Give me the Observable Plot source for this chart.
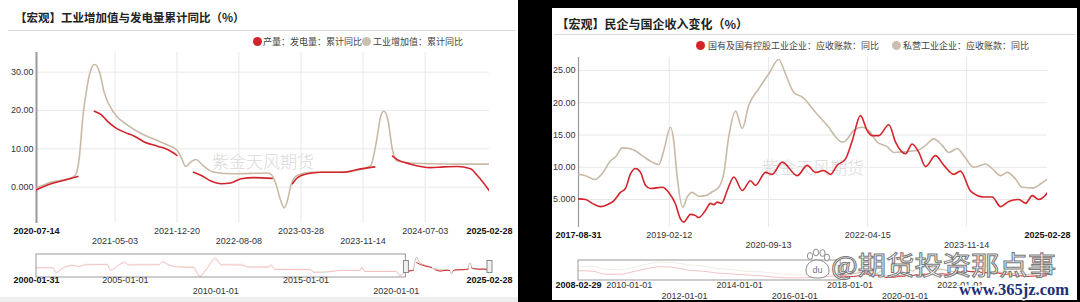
<!DOCTYPE html>
<html><head><meta charset="utf-8">
<script src="https://cdn.jsdelivr.net/npm/d3@7"></script>
<script src="https://cdn.jsdelivr.net/npm/@observablehq/plot@0.6"></script>
<style>
html,body{margin:0;padding:0}
body{width:1080px;height:302px;background:#000;position:relative;overflow:hidden;font-family:"Liberation Sans",Arial,sans-serif}
.panel{position:absolute;background:#fff;overflow:hidden}
.abs{position:absolute}
.title{font-family:"Noto Sans CJK SC",sans-serif;font-weight:700;font-size:12px;color:#222;white-space:nowrap;line-height:12px}
.sep{height:1px;background:#dadada}
.leg{font-family:"Noto Sans CJK SC",sans-serif;font-size:9px;color:#444;white-space:nowrap;line-height:9px}
.dot{position:absolute;width:9px;height:9px;border-radius:50%}
.wm{font-family:"Noto Sans CJK SC",sans-serif;font-size:17px;color:#dadada;white-space:nowrap;line-height:17px;font-weight:300}
svg{display:block}
</style></head><body>
<div id="L" class="panel" style="left:0;top:0;width:518px;height:302px"></div>
<div id="R" class="panel" style="left:552px;top:8px;width:525px;height:292px"></div>
<script>
// ---------------- DATA ----------------
// Left: 工业增加值与发电量累计同比
const leftTitle = "【宏观】工业增加值与发电量累计同比（%）";
const leftLegend = ["产量：发电量：累计同比", "工业增加值：累计同比"];
const leftXTicks = ["2020-07-14","2021-05-03","2021-12-20","2022-08-08","2023-03-28","2023-11-14","2024-07-03","2025-02-28"];
const leftXTickRows = [1,2,1,2,1,2,1,1];
const leftYTicks = [0,10,20,30];
const leftYTickLabels = ["0.000","10.00","20.00","30.00"];
const ivaDates = ["2020-07-14","2020-09-06","2020-10-26","2020-11-26","2020-12-09","2020-12-21","2021-01-03","2021-01-19","2021-02-02","2021-02-17","2021-03-05","2021-03-24","2021-04-30","2021-06-19","2021-08-08","2021-09-26","2021-11-15","2021-12-20","2022-01-04","2022-01-22","2022-02-10","2022-03-01","2022-03-26","2022-05-08","2022-07-21","2022-11-23","2022-12-05","2022-12-24","2023-01-11","2023-01-24","2023-02-05","2023-02-20","2023-03-15","2023-05-03","2023-08-11","2023-10-24","2023-12-13","2024-01-04","2024-01-19","2024-01-31","2024-02-15","2024-03-03","2024-03-21","2024-05-10","2024-07-23","2024-10-31","2025-02-28"];
const ivaValues = [-0.2,1.3,1.9,2.6,3.5,7.9,18.4,26.3,30.7,32.0,30.3,24.6,19.3,16.2,14.0,12.5,11.0,9.7,7.9,5.4,6.6,7.2,5.7,3.9,3.5,3.7,3.4,0.9,-3.5,-5.4,-3.5,0.9,3.1,3.9,3.9,4.4,5.7,12.3,18.5,19.8,17.6,9.7,6.8,6.3,6.1,6.0,6.0];
const powerDates = ["2020-07-14","2020-09-06","2020-10-25","2020-12-15","2021-01-15","2021-02-15","2021-03-12","2021-04-06","2021-05-07","2021-06-19","2021-07-14","2021-08-20","2021-10-09","2021-11-15","2021-12-20","2022-01-20","2022-02-20","2022-03-19","2022-04-26","2022-06-02","2022-07-09","2022-08-16","2022-10-04","2022-12-10","2023-01-20","2023-02-24","2023-03-15","2023-04-21","2023-06-09","2023-09-04","2023-10-24","2023-12-28","2024-02-01","2024-03-03","2024-03-21","2024-05-10","2024-07-23","2024-09-11","2024-10-31","2024-12-19","2025-01-13","2025-02-28"];
const powerValues = [-0.7,0.9,1.8,2.8,null,19.8,18.9,17.1,15.4,14.0,13.3,11.8,10.7,9.8,8.3,null,3.9,3.1,1.6,0.9,1.1,2.2,2.5,2.3,null,0.9,2.5,3.5,3.9,3.9,4.6,5.3,null,8.1,7.2,6.0,5.1,5.3,5.4,4.8,3.1,-1.0];
// left navigator
const leftNavRange = ["2000-01-31","2025-02-28"];
const leftNavTicks = ["2000-01-31","2005-01-01","2010-01-01","2015-01-01","2020-01-01","2025-02-28"];
const leftNavTickRows = [1,1,2,1,2,1];
const navIvaHistDates = ["2000-01-31","2000-06-30","2000-12-31","2001-02-28","2001-07-01","2002-02-01","2002-06-01","2002-11-01","2003-06-30","2004-01-01","2004-03-10","2004-07-28","2004-12-15","2005-03-01","2005-09-01","2006-11-10","2007-01-20","2007-06-01","2008-01-01","2008-10-01","2009-02-15","2009-06-01","2010-01-01","2010-04-20","2011-06-15","2011-10-20","2012-12-15","2013-01-15","2013-04-20","2015-04-01","2015-06-01","2016-01-01","2017-02-01","2018-01-01","2018-02-01","2018-04-01","2019-12-31","2020-03-15"];
const navIvaHistValues = [9.0,9.5,9.0,-1.8,7.4,15.0,12.0,16.6,16.6,16.6,3.6,13.5,22.9,16.0,16.6,16.6,24.4,16.0,11.2,11.2,-9.6,3.0,32.0,16.6,16.6,11.2,11.2,16.8,5.8,5.8,-0.4,-0.4,3.6,3.6,11.2,1.1,1.1,-8.1];
const navPowerHistValues = [8.0,8.5,8.0,-3.0,6.5,13.5,11.0,15.0,15.5,15.5,2.5,12.5,20.0,14.5,15.0,15.0,21.0,14.5,10.0,9.0,-11.0,1.5,28.0,15.0,14.5,10.0,9.5,14.0,4.5,4.0,-2.0,-1.5,2.5,2.5,9.0,0.0,0.0,-9.5];

// Right: 民企与国企收入变化
const rightTitle = "【宏观】民企与国企收入变化（%）";
const rightLegend = ["国有及国有控股工业企业：应收账款：同比", "私营工业企业：应收账款：同比"];
const rightXTicks = ["2017-08-31","2019-02-12","2020-09-13","2022-04-15","2023-11-14","2025-02-28"];
const rightXTickRows = [1,1,2,1,2,1];
const rightYTicks = [5,10,15,20,25];
const rightYTickLabels = ["5.000","10.00","15.00","20.00","25.00"];
const privDates = ["2017-08-31","2017-10-11","2017-12-04","2018-01-16","2018-03-06","2018-04-08","2018-05-13","2018-07-10","2018-09-07","2018-11-04","2018-12-13","2019-01-11","2019-02-19","2019-03-10","2019-03-30","2019-05-02","2019-05-28","2019-06-26","2019-08-03","2019-09-11","2019-10-21","2019-11-28","2019-12-27","2020-01-25","2020-03-05","2020-04-13","2020-05-21","2020-07-19","2020-09-15","2020-11-12","2020-12-21","2021-02-08","2021-03-29","2021-06-15","2021-08-22","2021-11-17","2021-12-07","2022-01-24","2022-03-14","2022-04-22","2022-06-10","2022-08-07","2022-09-15","2022-11-12","2023-01-29","2023-03-19","2023-05-06","2023-06-24","2023-08-02","2023-09-20","2023-10-28","2023-12-26","2024-03-03","2024-04-11","2024-05-30","2024-07-08","2024-08-25","2024-10-03","2024-12-10","2025-01-18","2025-02-28"];
const privValues = [8.9,8.7,8.1,9.0,11.0,11.7,13.0,12.8,11.8,10.8,10.4,12.6,16.2,14.1,8.5,3.8,5.4,6.1,5.5,5.6,6.2,6.9,9.0,14.7,18.7,16.0,19.6,22.2,24.5,26.7,24.5,21.6,20.9,18.5,16.5,13.9,14.1,15.7,16.2,15.7,13.9,13.2,12.3,12.4,12.6,13.4,14.4,13.4,12.3,12.9,11.8,10.0,10.5,9.8,8.7,9.2,8.2,6.9,6.8,7.4,8.2];
const soeDates = ["2017-08-31","2017-10-11","2017-11-19","2018-01-06","2018-02-15","2018-03-25","2018-05-03","2018-06-01","2018-07-01","2018-07-30","2018-08-28","2018-09-26","2018-10-25","2019-01-02","2019-02-09","2019-03-20","2019-04-18","2019-05-08","2019-06-16","2019-07-15","2019-08-03","2019-09-11","2019-10-11","2019-10-30","2019-11-19","2019-12-14","2020-01-16","2020-02-24","2020-04-13","2020-05-31","2020-06-29","2020-08-27","2020-10-05","2020-12-02","2021-02-28","2021-04-27","2021-06-15","2021-08-02","2021-09-10","2021-10-19","2021-12-07","2022-01-15","2022-03-04","2022-04-12","2022-05-12","2022-06-19","2022-08-17","2022-09-25","2022-11-22","2022-12-31","2023-02-08","2023-03-19","2023-05-16","2023-07-04","2023-08-31","2023-10-09","2023-12-07","2024-02-22","2024-04-11","2024-05-30","2024-07-17","2024-09-14","2024-10-23","2024-12-01","2025-01-08","2025-02-06","2025-02-28"];
const soeValues = [5.1,5.0,4.4,3.9,4.2,4.8,6.1,6.7,9.0,9.8,9.2,7.2,6.7,6.9,6.1,4.3,2.0,1.5,2.7,2.5,2.2,3.3,4.4,4.2,4.6,4.4,6.4,8.5,6.4,7.9,7.2,9.2,8.9,10.8,8.7,10.3,9.2,9.5,8.9,10.3,11.3,14.1,18.0,15.7,14.9,14.9,16.6,13.9,12.1,13.6,12.3,10.1,11.8,10.3,8.9,9.4,6.3,5.4,5.4,3.9,4.7,5.0,4.4,5.6,5.0,5.4,6.1];
// right navigator (labels after 2022 are hidden under the watermark in the reference)
const rightNavRange = ["2008-02-29","2025-02-28"];
const rightNavTicks = ["2008-02-29","2010-01-01","2012-01-01","2014-01-01","2016-01-01","2018-01-01","2020-01-01","2022-01-01"];
const rightNavTickRows = [1,1,2,1,2,1,2,1];
const navHistDatesR = ["2008-02-29","2008-08-31","2009-02-28","2009-08-31","2010-02-28","2010-08-31","2011-02-28","2011-08-31","2012-02-29","2012-08-31","2013-02-28","2013-08-31","2014-02-28","2014-08-31","2015-02-28","2015-08-31","2016-02-29","2016-08-31","2017-02-28"];
const navPrivHistValues = [26,27,20,19,24,32,36,35,30,28,22,20,16,15,12,9,8,7,8];
const navSoeHistValues = [17,16,9,9,15,22,26,24,18,16,12,10,8,6,3,1,1,2,4];

// ---------------- HELPERS ----------------
const RED = "#d4242b", BEIGE = "#c9baa6";
const parse = d3.utcParse("%Y-%m-%d");
const series = (dates, values) => dates.map((d, i) => ({date: parse(d), value: values[i]}));
const FONT = "'Liberation Sans', Arial, sans-serif";

function tickData(ticks, rows, range) {
  return ticks.map((t, i) => ({date: parse(t), label: t, row: rows[i], edge: t === range[0] || t === range[1]}));
}
function xLabels(td, dy1, dy2) {
  const base = {x: "date", text: "label", frameAnchor: "bottom", fontSize: 9, fill: "#333"};
  return [
    Plot.text(td.filter(t => !t.edge && t.row === 1), {...base, dy: dy1}),
    Plot.text(td.filter(t => !t.edge && t.row === 2), {...base, dy: dy2}),
    Plot.text(td.filter(t => t.edge), {...base, dy: dy1, fontWeight: "bold", fill: "#111"})
  ];
}

function mainPlot(o) {
  const range = [o.xTicks[0], o.xTicks[o.xTicks.length - 1]];
  const td = tickData(o.xTicks, o.xTickRows, range);
  const dates = td.map(t => t.date);
  const n = dates.length - 1;
  return Plot.plot({
    width: o.width, height: o.height,
    marginLeft: o.ml, marginRight: o.mr, marginTop: o.mt, marginBottom: o.mb,
    x: {type: "utc", domain: [dates[0], dates[n]], axis: null},
    y: {domain: o.yDomain, axis: null},
    style: {fontFamily: FONT, fontSize: "9px", background: "transparent", overflow: "visible"},
    marks: [
      Plot.ruleY(o.yTicks, {stroke: "#e8e8e8"}),
      Plot.ruleX(dates.slice(1, n), {stroke: "#e8e8e8"}),
      Plot.ruleX([dates[0]], {stroke: "#999", strokeWidth: o.axisW}),
      Plot.line(o.beige, {x: "date", y: "value", stroke: BEIGE, strokeWidth: 1.6, curve: "monotone-x", clip: true}),
      Plot.line(o.red, {x: "date", y: "value", stroke: RED, strokeWidth: 1.6, curve: "monotone-x", clip: true}),
      Plot.text(o.yTicks, {y: d => d, text: (d, i) => o.yTickLabels[i], frameAnchor: "left", textAnchor: "end", dx: -3, fontSize: 9, fill: "#333"}),
      ...xLabels(td, o.dy1, o.dy2)
    ]
  });
}

function navPlot(o) {
  const td = tickData(o.ticks, o.rows, o.range);
  const d0 = parse(o.range[0]), d1 = parse(o.range[1]);
  const sel = [o.selStart, d1];
  return Plot.plot({
    width: o.width, height: o.height,
    marginLeft: o.ml, marginRight: o.mr, marginTop: o.mt, marginBottom: o.mb,
    x: {type: "utc", domain: [d0, d1], axis: null},
    y: {domain: o.yDomain, axis: null},
    style: {fontFamily: FONT, fontSize: "9px", background: "transparent", overflow: "visible"},
    marks: [
      Plot.line(o.beige, {x: "date", y: "value", stroke: BEIGE, strokeWidth: 1, curve: "monotone-x", clip: true}),
      Plot.line(o.red, {x: "date", y: "value", stroke: RED, strokeWidth: 1, curve: "monotone-x", clip: true}),
      Plot.rect([{a: d0, b: o.selStart}], {x1: "a", x2: "b", fill: "#fff", fillOpacity: 0.72, stroke: "#9a9a9a", strokeWidth: 1}),
      Plot.tickX(sel, {x: d => d, stroke: "#8a8a8a", strokeWidth: 6, insetTop: o.hTop, insetBottom: o.hBot}),
      Plot.tickX(sel, {x: d => d, stroke: "#f0f0f0", strokeWidth: 4, insetTop: o.hTop + 1, insetBottom: o.hBot + 1}),
      ...xLabels(td, o.dy1, o.dy2)
    ]
  });
}

function place(parent, el, left, top) {
  el.style.position = "absolute"; el.style.left = left + "px"; el.style.top = top + "px";
  parent.appendChild(el); return el;
}
function html(parent, cls, text, left, top, extra) {
  const d = document.createElement("div");
  d.className = "abs " + cls; d.textContent = text;
  d.style.left = left + "px"; d.style.top = top + "px";
  if (extra) Object.assign(d.style, extra);
  parent.appendChild(d); return d;
}
function legendItem(parent, color, label, dotX, y, textX) {
  const dot = document.createElement("div");
  dot.className = "dot"; dot.style.background = color;
  dot.style.left = (dotX - 4.5) + "px"; dot.style.top = (y - 4.5) + "px";
  parent.appendChild(dot);
  html(parent, "leg", label, textX, y - 4.5);
}

// ---------------- LEFT PANEL ----------------
const L = document.getElementById("L");
html(L, "title", leftTitle, 15, 10.5, {fontSize: "11.5px"});
html(L, "sep", "", 8, 30, {width: "508px"});
legendItem(L, RED, leftLegend[0], 257, 41.3, 263);
legendItem(L, "#cdbfad", leftLegend[1], 366, 41.3, 373);
html(L, "wm", "紫金天风期货", 212, 151.5);

const leftIva = series(ivaDates, ivaValues);
const leftPower = series(powerDates, powerValues);
place(L, mainPlot({
  width: 518, height: 202, ml: 36, mr: 29, mt: 4, mb: 27,
  xTicks: leftXTicks, xTickRows: leftXTickRows,
  yTicks: leftYTicks, yTickLabels: leftYTickLabels, yDomain: [-9.48, 35.13],
  beige: leftIva, red: leftPower, axisW: 2, dy1: 10, dy2: 20
}), 0, 48);
place(L, navPlot({
  width: 518, height: 50, ml: 36, mr: 29, mt: 4, mb: 23,
  range: leftNavRange, ticks: leftNavTicks, rows: leftNavTickRows, yDomain: [-13.5, 38.3],
  selStart: parse(leftXTicks[0]),
  beige: series(navIvaHistDates, navIvaHistValues).concat(leftIva),
  red: series(navIvaHistDates, navPowerHistValues).concat(leftPower),
  hTop: 6, hBot: 4, dy1: 5.5, dy2: 16.5
}), 0, 250);
html(L, "", "", 0, 297, {width: "518px", height: "5px", background: "#efefef"});

// ---------------- RIGHT PANEL ----------------
const R = document.getElementById("R");
html(R, "title", rightTitle, 4.5, 9.5);
html(R, "sep", "", 2, 26, {width: "521px"});
legendItem(R, RED, rightLegend[0], 148, 37.5, 156);
legendItem(R, "#cdbfad", rightLegend[1], 344, 37.5, 351);
html(R, "wm", "紫金天风期货", 210, 150);

const rightPriv = series(privDates, privValues);
const rightSoe = series(soeDates, soeValues);
place(R, mainPlot({
  width: 525, height: 204, ml: 26, mr: 30, mt: 4, mb: 30,
  xTicks: rightXTicks, xTickRows: rightXTickRows,
  yTicks: rightYTicks, yTickLabels: rightYTickLabels, yDomain: [0.66, 27.02],
  beige: rightPriv, red: rightSoe, axisW: 1.2, dy1: 10, dy2: 20.5
}), 0, 45);
place(R, navPlot({
  width: 525, height: 44, ml: 26, mr: 30, mt: 4, mb: 20,
  range: rightNavRange, ticks: rightNavTicks, rows: rightNavTickRows, yDomain: [-5, 40],
  selStart: parse(rightXTicks[0]),
  beige: series(navHistDatesR, navPrivHistValues).concat(rightPriv),
  red: series(navHistDatesR, navSoeHistValues).concat(rightSoe),
  hTop: 5, hBot: 5, dy1: 7.5, dy2: 18
}), 0, 248);

// ---------------- OVERLAY WATERMARK ----------------
const ns = "http://www.w3.org/2000/svg";
const ov = document.createElementNS(ns, "svg");
ov.setAttribute("width", 1080); ov.setAttribute("height", 302);
ov.style.position = "absolute"; ov.style.left = "0"; ov.style.top = "0";
ov.innerHTML = `
<g stroke="#8a8a8a" stroke-width="1" fill="#fff">
  <ellipse cx="810" cy="256" rx="2.6" ry="3.4"/>
  <ellipse cx="816" cy="252.5" rx="2.6" ry="3.4"/>
  <ellipse cx="822.5" cy="253" rx="2.6" ry="3.4"/>
  <ellipse cx="827" cy="257.5" rx="2.6" ry="3.4"/>
  <path d="M806 271 C806 263 812 260 817 260 C823 260 829 264 829 271 C829 276 824 278 817.5 278 C811 278 806 276 806 271 Z"/>
</g>
<text x="817.5" y="273" text-anchor="middle" font-family="Liberation Sans, Arial" font-size="9" fill="#777">du</text>
<text x="831" y="275" font-family="Noto Sans CJK SC, sans-serif" font-size="26" fill="#fff" stroke="#7a7a7a" stroke-width="1" textLength="225" lengthAdjust="spacingAndGlyphs">@期货投资那点事</text>
<text x="959" y="295" font-family="Liberation Serif, serif" font-weight="bold" font-size="16" fill="#1d2f78" stroke="#fff" stroke-width="3" paint-order="stroke" textLength="110" lengthAdjust="spacingAndGlyphs">www.365jz.com</text>
`;
document.body.appendChild(ov);
</script>
</body></html>
